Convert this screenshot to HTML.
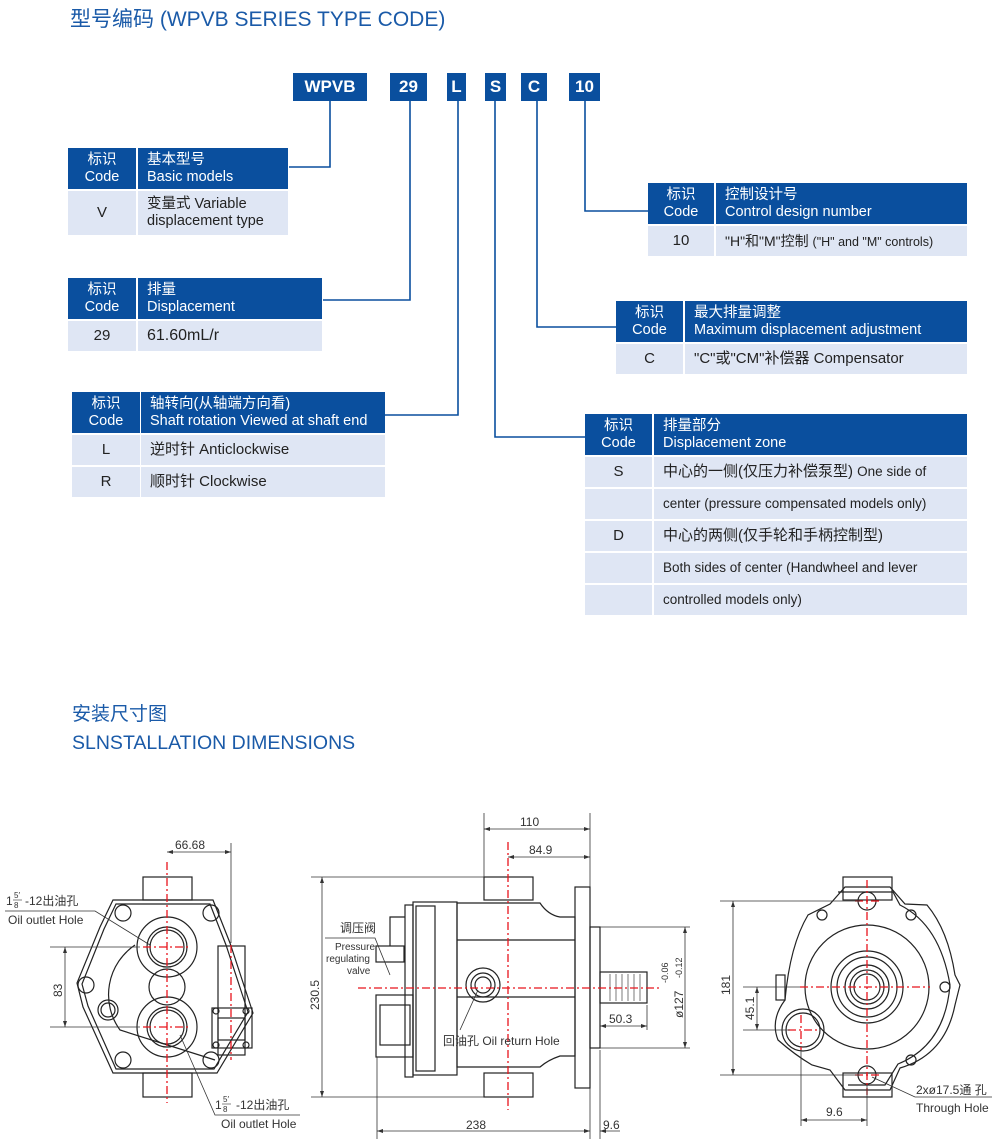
<!DOCTYPE html>
<html><head><meta charset="utf-8">
<style>
*{margin:0;padding:0;box-sizing:border-box}
body{width:1000px;height:1139px;background:#fff;position:relative;overflow:hidden;font-family:"Liberation Sans","Noto Sans CJK SC",sans-serif;color:#222}
.a{position:absolute}
.h{position:absolute;background:#0a4f9e;color:#fff;font-size:14.5px;line-height:16.5px}
.r{position:absolute;background:#dfe6f4;color:#222;font-size:15px}
.cc{text-align:center}
.ttl{position:absolute;color:#1a5aa8;font-size:21px}
.box{position:absolute;background:#0a4f9e;color:#fff;font-weight:bold;font-size:17px;text-align:center;line-height:28px;height:28px;top:73px}
.pad{padding-left:9px}
</style></head><body>
<div class="ttl" style="left:70px;top:3px">型号编码 (WPVB SERIES TYPE CODE)</div>

<div class="box" style="left:293px;width:74px">WPVB</div>
<div class="box" style="left:390px;width:37px">29</div>
<div class="box" style="left:447px;width:19px">L</div>
<div class="box" style="left:485px;width:21px">S</div>
<div class="box" style="left:521px;width:26px">C</div>
<div class="box" style="left:569px;width:31px">10</div>

<svg class="a" style="left:0;top:0" width="1000" height="700">
<g fill="none" stroke="#0a4f9e" stroke-width="1.6">
<polyline points="330,101 330,167 289,167"/>
<polyline points="410,101 410,300 323,300"/>
<polyline points="458,101 458,415 385,415"/>
<polyline points="495,101 495,437 585,437"/>
<polyline points="537,101 537,327 616,327"/>
<polyline points="585,101 585,211 648,211"/>
</g></svg>

<!-- T1 -->
<div class="h cc" style="left:68px;top:148px;width:68px;height:41px;padding-top:4px">标识<br>Code</div>
<div class="h pad" style="left:138px;top:148px;width:150px;height:41px;padding-top:4px">基本型号<br>Basic models</div>
<div class="r cc" style="left:68px;top:191px;width:68px;height:44px;line-height:44px">V</div>
<div class="r pad" style="left:138px;top:191px;width:150px;height:44px;padding-top:5px;line-height:17px;font-size:14.5px">变量式 Variable<br>displacement type</div>
<!-- T2 -->
<div class="h cc" style="left:68px;top:278px;width:68px;height:41px;padding-top:4px">标识<br>Code</div>
<div class="h pad" style="left:138px;top:278px;width:184px;height:41px;padding-top:4px">排量<br>Displacement</div>
<div class="r cc" style="left:68px;top:321px;width:68px;height:30px;line-height:30px">29</div>
<div class="r pad" style="left:138px;top:321px;width:184px;height:30px;line-height:30px;font-size:16px">61.60mL/r</div>
<!-- T3 -->
<div class="h cc" style="left:72px;top:392px;width:68px;height:41px;padding-top:4px">标识<br>Code</div>
<div class="h pad" style="left:141px;top:392px;width:244px;height:41px;padding-top:4px">轴转向(从轴端方向看)<br>Shaft rotation Viewed at shaft end</div>
<div class="r cc" style="left:72px;top:435px;width:68px;height:30px;line-height:30px">L</div>
<div class="r pad" style="left:141px;top:435px;width:244px;height:30px;line-height:30px">逆时针 Anticlockwise</div>
<div class="r cc" style="left:72px;top:467px;width:68px;height:30px;line-height:30px">R</div>
<div class="r pad" style="left:141px;top:467px;width:244px;height:30px;line-height:30px">顺时针 Clockwise</div>
<!-- T4 -->
<div class="h cc" style="left:648px;top:183px;width:66px;height:41px;padding-top:4px">标识<br>Code</div>
<div class="h pad" style="left:716px;top:183px;width:251px;height:41px;padding-top:4px">控制设计号<br>Control design number</div>
<div class="r cc" style="left:648px;top:226px;width:66px;height:30px;line-height:30px">10</div>
<div class="r pad" style="left:716px;top:226px;width:251px;height:30px;line-height:30px;font-size:14px">"H"和"M"控制 <span style="font-size:12.5px">("H" and "M" controls)</span></div>
<!-- T5 -->
<div class="h cc" style="left:616px;top:301px;width:67px;height:41px;padding-top:4px">标识<br>Code</div>
<div class="h pad" style="left:685px;top:301px;width:282px;height:41px;padding-top:4px">最大排量调整<br>Maximum displacement adjustment</div>
<div class="r cc" style="left:616px;top:344px;width:67px;height:30px;line-height:30px">C</div>
<div class="r pad" style="left:685px;top:344px;width:282px;height:30px;line-height:30px">"C"或"CM"补偿器 Compensator</div>
<!-- T6 -->
<div class="h cc" style="left:585px;top:414px;width:67px;height:41px;padding-top:4px">标识<br>Code</div>
<div class="h pad" style="left:654px;top:414px;width:313px;height:41px;padding-top:4px">排量部分<br>Displacement zone</div>
<div class="r cc" style="left:585px;top:457px;width:67px;height:30px;line-height:30px">S</div>
<div class="r pad" style="left:654px;top:457px;width:313px;height:30px;line-height:30px">中心的一侧(仅压力补偿泵型) <span style="font-size:13.5px">One side of</span></div>
<div class="r" style="left:585px;top:489px;width:67px;height:30px"></div>
<div class="r pad" style="left:654px;top:489px;width:313px;height:30px;line-height:30px;font-size:13.5px">center (pressure compensated models only)</div>
<div class="r cc" style="left:585px;top:521px;width:67px;height:30px;line-height:30px">D</div>
<div class="r pad" style="left:654px;top:521px;width:313px;height:30px;line-height:30px">中心的两侧(仅手轮和手柄控制型)</div>
<div class="r" style="left:585px;top:553px;width:67px;height:30px"></div>
<div class="r pad" style="left:654px;top:553px;width:313px;height:30px;line-height:30px;font-size:13.5px">Both sides of center (Handwheel and lever</div>
<div class="r" style="left:585px;top:585px;width:67px;height:30px"></div>
<div class="r pad" style="left:654px;top:585px;width:313px;height:30px;line-height:30px;font-size:13.5px">controlled models only)</div>

<div class="ttl" style="left:72px;top:699px;font-size:19px">安装尺寸图</div>
<div class="ttl" style="left:72px;top:732px;font-size:19.5px">SLNSTALLATION DIMENSIONS</div>

<svg class="a" style="left:0;top:0" width="1000" height="1139" font-family="Liberation Sans, Noto Sans CJK SC, sans-serif" font-size="12" fill="#333">
<g fill="none" stroke="#222" stroke-width="1.2">
<!-- LEFT VIEW -->
<rect x="143" y="877" width="49" height="23"/>
<rect x="143" y="1073" width="49" height="24"/>
<polygon points="113,900 213,900 230,943 253,1013 217,1073 113,1073 83,1007 77,983 100,927"/>
<polygon points="116,904 210,904 226,945 248,1012 214,1069 116,1069 88,1006 82,984 104,929"/>
<circle cx="167" cy="947" r="30"/><circle cx="167" cy="947" r="20"/><circle cx="167" cy="947" r="17"/>
<circle cx="167" cy="1027" r="30"/><circle cx="167" cy="1027" r="20"/><circle cx="167" cy="1027" r="17"/>
<circle cx="167" cy="987" r="18"/>
<path d="M135,945 A60,60 0 0 0 120,1030 L215,1060"/>
<circle cx="123" cy="913" r="8"/><circle cx="211" cy="913" r="8"/><circle cx="123" cy="1060" r="8"/><circle cx="211" cy="1060" r="8"/>
<circle cx="86" cy="985" r="8"/><circle cx="108" cy="1010" r="10"/><circle cx="108" cy="1010" r="7"/>
<rect x="218" y="946" width="27" height="109"/><rect x="212" y="1008" width="40" height="40"/>
<rect x="218" y="1018" width="27" height="22"/>
<circle cx="216" cy="1011" r="3"/><circle cx="246" cy="1011" r="3"/><circle cx="216" cy="1045" r="3"/><circle cx="246" cy="1045" r="3"/>
<!-- MIDDLE VIEW -->
<rect x="484" y="877" width="49" height="23"/>
<rect x="484" y="1073" width="49" height="24"/>
<rect x="413" y="902" width="44" height="173"/>
<rect x="416" y="906" width="19" height="165"/>
<path d="M457,903 L540,903 Q548,915 560,917 L575,917 L575,1056 L560,1056 Q548,1060 540,1067 L457,1067 Z"/>
<line x1="457" y1="940" x2="575" y2="940"/><line x1="457" y1="997" x2="575" y2="997"/>
<rect x="575" y="887" width="15" height="201"/>
<rect x="590" y="927" width="10" height="121"/>
<rect x="600" y="972" width="47" height="31"/>
<g stroke-width="0.6"><line x1="610" y1="974" x2="610" y2="1001"/><line x1="616" y1="974" x2="616" y2="1001"/><line x1="622" y1="974" x2="622" y2="1001"/><line x1="628" y1="974" x2="628" y2="1001"/><line x1="634" y1="974" x2="634" y2="1001"/><line x1="640" y1="974" x2="640" y2="1001"/></g>
<rect x="376" y="995" width="37" height="62"/><rect x="380" y="1005" width="30" height="40"/>
<rect x="376" y="946" width="28" height="16"/><polyline points="390,946 390,917 405,917"/>
<rect x="405" y="905" width="8" height="172"/>
<circle cx="483" cy="985" r="17"/><circle cx="483" cy="985" r="12"/><circle cx="483" cy="985" r="8"/>
<!-- RIGHT VIEW -->
<rect x="843" y="877" width="49" height="23"/>
<rect x="843" y="1073" width="49" height="24"/>
<path d="M845,887 L890,887 L905,904 L927,905 Q948,930 955,975 L960,985 L955,1005 Q945,1055 900,1068 L890,1090 L845,1090 L830,1070 L812,1065 Q795,1055 778,1040 Q770,1020 785,1000 Q790,945 808,915 L830,904 Z"/>
<path d="M838,892 L893,892 L900,905 Q940,925 950,985 Q945,1045 898,1064 L885,1085 L848,1085"/>
<circle cx="867" cy="987" r="62"/>
<circle cx="867" cy="987" r="36"/><circle cx="867" cy="987" r="30"/><circle cx="867" cy="987" r="22"/><circle cx="867" cy="987" r="17"/><circle cx="867" cy="987" r="13"/>
<circle cx="803" cy="1030" r="21"/><circle cx="803" cy="1030" r="17"/>
<circle cx="867" cy="901" r="9"/><circle cx="867" cy="1075" r="9"/>
<circle cx="822" cy="915" r="5"/><circle cx="911" cy="915" r="5"/><circle cx="945" cy="987" r="5"/><circle cx="911" cy="1060" r="5"/>
<rect x="776" y="975" width="9" height="25"/>
</g>
<!-- red centerlines -->
<g stroke="#e8141c" stroke-width="1.3" stroke-dasharray="8,3,2,3" fill="none">
<line x1="167" y1="862" x2="167" y2="1103"/>
<line x1="143" y1="947" x2="190" y2="947"/><line x1="143" y1="1027" x2="190" y2="1027"/>
<line x1="231" y1="945" x2="231" y2="1060"/>
<line x1="508" y1="842" x2="508" y2="1110"/>
<line x1="358" y1="988" x2="660" y2="988"/>
<line x1="867" y1="880" x2="867" y2="1095"/>
<line x1="800" y1="987" x2="930" y2="987"/>
<line x1="855" y1="901" x2="879" y2="901"/><line x1="855" y1="1075" x2="879" y2="1075"/>
<line x1="788" y1="1030" x2="818" y2="1030"/><line x1="801" y1="1015" x2="801" y2="1050"/>
</g>
<!-- dimension lines -->
<g stroke="#333" stroke-width="0.8" fill="none">
<line x1="231" y1="843" x2="231" y2="943"/><line x1="167" y1="852" x2="231" y2="852"/>
<line x1="50" y1="947" x2="140" y2="947"/><line x1="50" y1="1027" x2="140" y2="1027"/><line x1="65" y1="947" x2="65" y2="1027"/>
<polyline points="5,911 95,911 150,945"/><polyline points="300,1115 215,1115 180,1035"/>
<line x1="484" y1="813" x2="484" y2="877"/><line x1="590" y1="813" x2="590" y2="887"/><line x1="484" y1="829" x2="590" y2="829"/>
<line x1="508" y1="857" x2="590" y2="857"/>
<line x1="311" y1="877" x2="484" y2="877"/><line x1="311" y1="1097" x2="484" y2="1097"/><line x1="322" y1="877" x2="322" y2="1097"/>
<line x1="377" y1="1057" x2="377" y2="1139"/><line x1="590" y1="1088" x2="590" y2="1139"/><line x1="600" y1="1050" x2="600" y2="1139"/>
<line x1="377" y1="1131" x2="590" y2="1131"/><line x1="600" y1="1131" x2="620" y2="1131"/>
<line x1="600" y1="927" x2="690" y2="927"/><line x1="600" y1="1048" x2="690" y2="1048"/><line x1="685" y1="927" x2="685" y2="1048"/>
<line x1="647" y1="1005" x2="647" y2="1030"/><line x1="600" y1="1026" x2="647" y2="1026"/>
<polyline points="325,938 375,938 390,975"/><polyline points="460,1030 478,990"/>
<line x1="720" y1="901" x2="860" y2="901"/><line x1="720" y1="1075" x2="860" y2="1075"/><line x1="733" y1="901" x2="733" y2="1075"/>
<line x1="743" y1="987" x2="800" y2="987"/><line x1="743" y1="1030" x2="790" y2="1030"/><line x1="757" y1="987" x2="757" y2="1030"/>
<line x1="801" y1="1050" x2="801" y2="1126"/><line x1="867" y1="1085" x2="867" y2="1126"/><line x1="801" y1="1120" x2="867" y2="1120"/>
<polyline points="872,1077 915,1097 992,1097"/>
</g>
<g fill="#333">
<path d="M167,852 l6,-2 v4z M231,852 l-6,-2 v4z M65,947 l-2,6 h4z M65,1027 l-2,-6 h4z"/>
<path d="M484,829 l6,-2 v4z M590,829 l-6,-2 v4z M508,857 l6,-2 v4z M590,857 l-6,-2 v4z"/>
<path d="M322,877 l-2,6 h4z M322,1097 l-2,-6 h4z M377,1131 l6,-2 v4z M590,1131 l-6,-2 v4z M600,1131 l6,-2 v4z"/>
<path d="M685,927 l-2,6 h4z M685,1048 l-2,-6 h4z M600,1026 l6,-2 v4z M647,1026 l-6,-2 v4z"/>
<path d="M733,901 l-2,6 h4z M733,1075 l-2,-6 h4z M757,987 l-2,6 h4z M757,1030 l-2,-6 h4z M801,1120 l6,-2 v4z M867,1120 l-6,-2 v4z"/>
</g>
<text x="175" y="849">66.68</text>
<text x="0" y="0" transform="translate(62,997) rotate(-90)">83</text>
<text x="6" y="905">1</text><text x="14" y="898" font-size="8">5′</text><line x1="13" y1="900" x2="22" y2="900" stroke="#333" stroke-width="0.6"/><text x="14" y="908" font-size="8">8</text><text x="25" y="905">-12出油孔</text>
<text x="8" y="924">Oil outlet Hole</text>
<text x="215" y="1109">1</text><text x="223" y="1102" font-size="8">5′</text><line x1="222" y1="1104" x2="231" y2="1104" stroke="#333" stroke-width="0.6"/><text x="223" y="1112" font-size="8">8</text><text x="236" y="1109">-12出油孔</text>
<text x="221" y="1128">Oil outlet Hole</text>
<text x="520" y="826">110</text>
<text x="529" y="854">84.9</text>
<text x="0" y="0" transform="translate(319,1010) rotate(-90)">230.5</text>
<text x="466" y="1129">238</text>
<text x="603" y="1129">9.6</text>
<text x="609" y="1023">50.3</text>
<text x="0" y="0" transform="translate(683,1018) rotate(-90)">ø127</text>
<text x="0" y="0" transform="translate(668,983) rotate(-90)" font-size="9">-0.06</text>
<text x="0" y="0" transform="translate(682,978) rotate(-90)" font-size="9">-0.12</text>
<text x="340" y="932">调压阀</text>
<text x="335" y="950" font-size="10">Pressure</text>
<text x="326" y="962" font-size="10">regulating</text>
<text x="347" y="974" font-size="10">valve</text>
<text x="443" y="1045">回油孔 Oil return Hole</text>
<text x="0" y="0" transform="translate(730,995) rotate(-90)">181</text>
<text x="0" y="0" transform="translate(754,1020) rotate(-90)">45.1</text>
<text x="826" y="1116">9.6</text>
<text x="916" y="1094">2xø17.5通 孔</text>
<text x="916" y="1112">Through Hole</text>
</svg>
</body></html>
